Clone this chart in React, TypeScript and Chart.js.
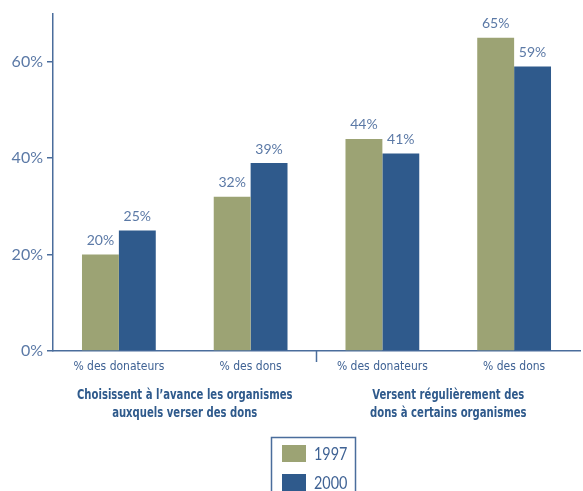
import React, { useEffect, useRef } from 'react';
import { Chart, registerables } from 'chart.js';

Chart.register(...registerables);

const categories = ['% des donateurs', '% des dons', '% des donateurs', '% des dons'];
const groupLabels = [
  ['Choisissent à l’avance les organismes', 'auxquels verser des dons'],
  ['Versent régulièrement des', 'dons à certains organismes'],
];
const seriesNames = ['1997', '2000'];
const values1997 = [20, 32, 44, 65];
const values2000 = [25, 39, 41, 59];
const yTicks = [0, 20, 40, 60];

const OLIVE = '#9ca374';
const BLUE = '#2f5a8c';
const AXIS = '#4a6d9c';
const TEXT = '#3f6294';
const LABEL = '#5b79a6';
const NUM_FONT = 'Lato, "Open Sans", sans-serif';
const NARROW = '"DejaVu Sans Condensed", "Liberation Sans Narrow", sans-serif';

function squeezedText(ctx: any, text: string, cx: number, cy: number, sx: number, align: string) {
  ctx.save();
  ctx.translate(cx, cy);
  ctx.scale(sx, 1);
  ctx.textAlign = align;
  ctx.fillText(text, 0, 0);
  ctx.restore();
}

const overlay = {
  id: 'overlay',
  afterDatasetsDraw(chart: any) {
    const ctx = chart.ctx;
    ctx.save();
    ctx.font = `14px ${NUM_FONT}`;
    ctx.fillStyle = LABEL;
    ctx.textAlign = 'center';
    ctx.textBaseline = 'bottom';
    chart.data.datasets.forEach((ds: any, di: number) => {
      const meta = chart.getDatasetMeta(di);
      meta.data.forEach((bar: any, i: number) => {
        ctx.fillText(ds.data[i] + '%', bar.x, bar.y - 7);
      });
    });
    ctx.restore();
  },
  afterDraw(chart: any) {
    const ctx = chart.ctx;
    const x = chart.scales.x;
    const area = chart.chartArea;
    ctx.save();
    // separator tick between groups
    const sep = (x.getPixelForValue(1) + x.getPixelForValue(2)) / 2;
    ctx.strokeStyle = AXIS;
    ctx.lineWidth = 1.5;
    ctx.beginPath();
    ctx.moveTo(sep, area.bottom);
    ctx.lineTo(sep, area.bottom + 11);
    ctx.stroke();
    // group labels
    ctx.font = `bold 14px ${NARROW}`;
    ctx.fillStyle = BLUE;
    ctx.textBaseline = 'middle';
    groupLabels.forEach((lines, g) => {
      const cx = (x.getPixelForValue(g * 2) + x.getPixelForValue(g * 2 + 1)) / 2;
      lines.forEach((line, li) => {
        squeezedText(ctx, line, cx, area.bottom + 44 + li * 18, 0.8, 'center');
      });
    });
    // legend box
    const lx = 271.5;
    const ly = 437.5;
    ctx.strokeStyle = AXIS;
    ctx.lineWidth = 1.5;
    ctx.strokeRect(lx, ly, 84, 70);
    ctx.font = `18px ${NUM_FONT}`;
    chart.data.datasets.forEach((ds: any, di: number) => {
      const sy = ly + 7.5 + di * 29;
      ctx.fillStyle = ds.backgroundColor;
      ctx.fillRect(lx + 10.5, sy, 24, 17);
      ctx.fillStyle = TEXT;
      squeezedText(ctx, ds.label, lx + 42.5, sy + 9, 0.8, 'left');
    });
    ctx.restore();
  },
};

export default function App() {
  const ref = useRef<HTMLCanvasElement>(null);
  useEffect(() => {
    document.body.style.margin = '0';
    const chart = new Chart(ref.current!, {
      type: 'bar',
      data: {
        labels: categories,
        datasets: [
          { label: seriesNames[0], data: values1997, backgroundColor: OLIVE, categoryPercentage: 0.56, barPercentage: 1 },
          { label: seriesNames[1], data: values2000, backgroundColor: BLUE, categoryPercentage: 0.56, barPercentage: 1 },
        ],
      },
      options: {
        responsive: false,
        animation: false,
        layout: { padding: { top: 12, right: 3, left: 0, bottom: 0 } },
        plugins: { legend: { display: false }, tooltip: { enabled: false } },
        scales: {
          x: {
            type: 'category',
            grid: { display: false, drawTicks: false },
            border: { color: AXIS, width: 1.5 },
            ticks: { padding: 9, color: TEXT, font: { family: NARROW, size: 12 } },
            afterFit: (s: any) => { s.height = 140; },
          },
          y: {
            min: 0,
            max: 70,
            ticks: { stepSize: 20, padding: 4, color: LABEL, font: { family: NUM_FONT, size: 16 }, callback: (v: any) => v + '%' },
            grid: { drawOnChartArea: false, drawTicks: true, tickLength: 6, color: AXIS, lineWidth: 1.5 },
            border: { color: AXIS, width: 1.5 },
            afterFit: (s: any) => { s.width = 53; },
            afterBuildTicks: (s: any) => { s.ticks = s.ticks.filter((t: any) => yTicks.includes(t.value)); },
          },
        },
      },
      plugins: [overlay],
    } as any);
    return () => chart.destroy();
  }, []);
  return (
    <div style={{ width: 583, height: 491 }}>
      <canvas ref={ref} width={583} height={491} style={{ display: 'block' }} />
    </div>
  );
}
